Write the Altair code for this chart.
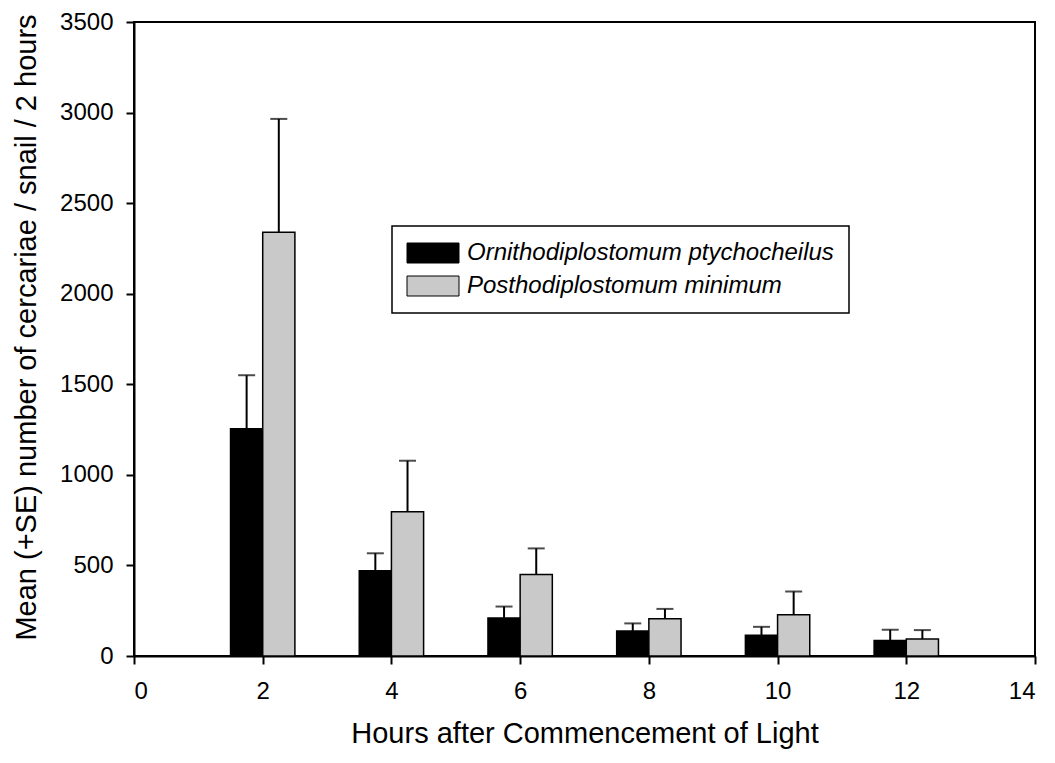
import altair as alt
import pandas as pd

species = ["Ornithodiplostomum ptychocheilus", "Posthodiplostomum minimum"]
hours = [2, 4, 6, 8, 10, 12]
orni_mean = [1255, 470, 210, 138, 115, 85]
orni_top = [1550, 567, 273, 180, 161, 145]
post_mean = [2340, 796, 450, 205, 228, 94]
post_top = [2965, 1078, 594, 260, 356, 143]

rows = []
for s, (means, tops) in enumerate([(orni_mean, orni_top), (post_mean, post_top)]):
    for h, m, t in zip(hours, means, tops):
        rows.append({"series": s, "species": species[s], "hour": h, "mean": m, "top": t})
df = pd.DataFrame(rows)

FONT = "Liberation Sans"

base = alt.Chart(df).transform_calculate(
    left="datum.series == 0 ? datum.hour - 0.5 : datum.hour",
    right="datum.series == 0 ? datum.hour : datum.hour + 0.5",
    mid="datum.series == 0 ? datum.hour - 0.25 : datum.hour + 0.25",
)

xscale = alt.Scale(domain=[0, 14], nice=False, zero=False)
yscale = alt.Scale(domain=[0, 3500], nice=False)

xaxis = alt.Axis(
    title="Hours after Commencement of Light",
    values=[0, 2, 4, 6, 8, 10, 12, 14],
    format="d",
    grid=False,
    tickSize=8,
    labelPadding=15,
    titlePadding=16,
)
yaxis = alt.Axis(
    title="Mean (+SE) number of cercariae / snail / 2 hours",
    values=[0, 500, 1000, 1500, 2000, 2500, 3000, 3500],
    format="d",
    grid=False,
    tickSize=8,
    labelPadding=13,
    titlePadding=18,
    titleY=305,
)

bars = base.mark_bar(stroke="black", strokeWidth=1.5).encode(
    x=alt.X("left:Q", scale=xscale, axis=xaxis),
    x2="right:Q",
    y=alt.Y("mean:Q", scale=yscale, axis=yaxis),
    y2=alt.datum(0),
    color=alt.Color(
        "species:N",
        scale=alt.Scale(domain=species, range=["#000000", "#c9c9c9"]),
        legend=alt.Legend(title=None),
    ),
)

err = base.mark_rule(color="black", strokeWidth=2).encode(
    x=alt.X("mid:Q", scale=xscale, axis=xaxis),
    y=alt.Y("mean:Q", scale=yscale, axis=yaxis),
    y2="top:Q",
)

cap = base.mark_tick(orient="horizontal", size=17, thickness=2, color="black").encode(
    x=alt.X("mid:Q", scale=xscale, axis=xaxis),
    y=alt.Y("top:Q", scale=yscale, axis=yaxis),
)

chart = (
    alt.layer(err, cap, bars)
    .properties(
        width=901,
        height=634,
        autosize="none",
        padding={"left": 126, "top": 14, "right": 12, "bottom": 104},
        background="white",
    )
    .configure_view(stroke="black", strokeWidth=2)
    .configure_axis(
        domainColor="black",
        domainWidth=2,
        tickColor="black",
        tickWidth=2,
        labelFont=FONT,
        labelFontSize=24,
        labelColor="black",
        titleFont=FONT,
        titleFontSize=29,
        titleFontWeight="normal",
        titleColor="black",
    )
    .configure_legend(
        orient="none",
        legendX=258,
        legendY=204,
        strokeColor="black",
        strokeWidth=1.5,
        fillColor="white",
        padding=15,
        labelFont=FONT,
        labelFontSize=24,
        labelFontStyle="italic",
        labelColor="black",
        symbolType="M-2.6,-1H2.6V1H-2.6Z",
        symbolSize=400,
        symbolOffset=14,
        labelOffset=22,
        symbolStrokeColor="black",
        symbolStrokeWidth=1,
        rowPadding=9,
        labelLimit=600,
    )
)

chart.save("out.html", embed_options={"renderer": "svg", "actions": False})
